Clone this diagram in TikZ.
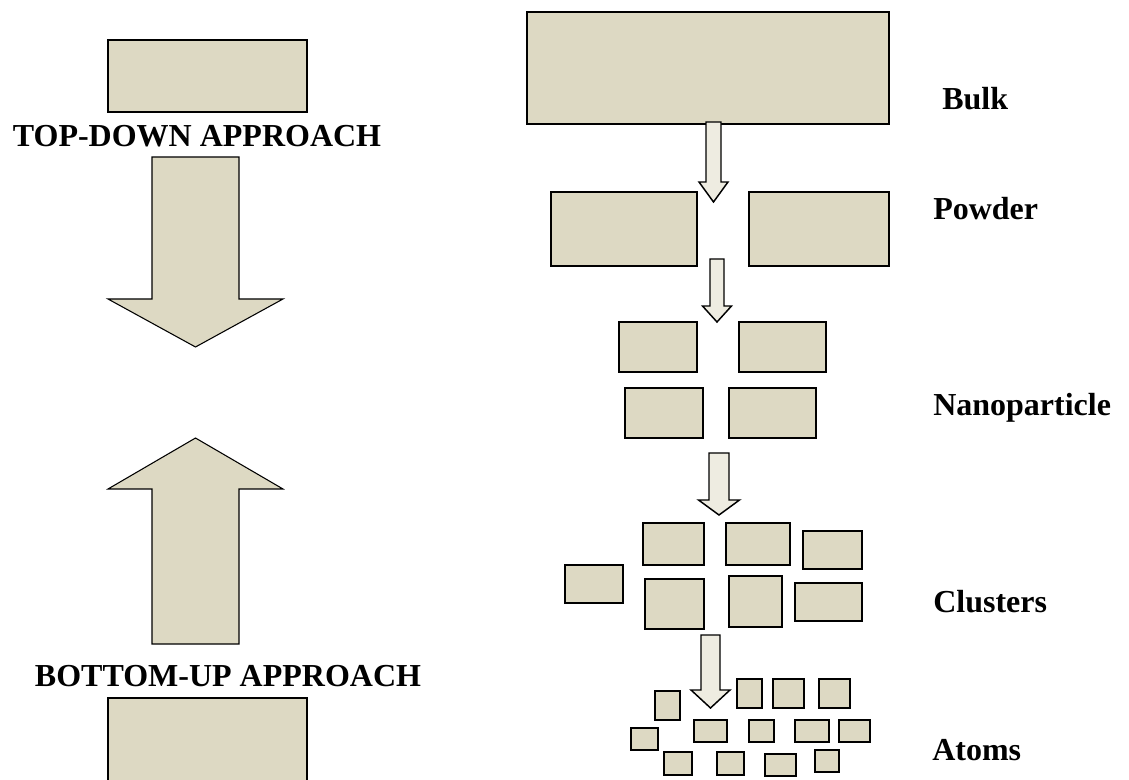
\documentclass[tikz,border=0pt]{standalone}
\usepackage{fontspec}
\setmainfont{Liberation Serif}
\usepackage{tikz}
\usetikzlibrary{fit}
\definecolor{grainfill}{HTML}{DDD9C3}
\definecolor{arrowfill}{HTML}{EEECE1}
\tikzstyle{grain} = [rectangle, inner sep=0pt, outer sep=0pt, draw=black, line width=1.1pt, fill=grainfill]
\tikzstyle{slab} = [grain, line width=0.8pt]
\tikzstyle{bigarrow} = [draw=black, line width=0.8pt, fill=grainfill, line join=miter]
\tikzstyle{smallarrow} = [draw=black, line width=1.1pt, fill=arrowfill, line join=miter]
\tikzstyle{approach} = [inner sep=0pt, anchor=base, font=\fontsize{24}{28}\selectfont\bfseries]
\tikzstyle{stagetext} = [inner sep=0pt, anchor=base west, font=\fontsize{24}{28}\selectfont\bfseries]
% block arrow: centre x, start y, neck y, tip y, half shaft, half head
\newcommand{\fatarrow}[7]{%
  \draw [#1] ({#2-#6},#3) -- ({#2+#6},#3) -- ({#2+#6},#4) -- ({#2+#7},#4)
    -- (#2,#5) -- ({#2-#7},#4) -- ({#2-#6},#4) -- cycle;}

\begin{document}
\begin{tikzpicture}[x=0.75pt, y=-0.75pt]
        \clip (0,0) rectangle (1129,780);
        % left column
        \node (topslab) [slab, fit={(108,40) (307,112)}] {};
        \node (topdown) [approach] at (197,147) {TOP-DOWN APPROACH};
        \fatarrow{bigarrow}{195.5}{157}{299}{347}{43.5}{87.5}
        \fatarrow{bigarrow}{195.5}{644}{489}{438}{43.5}{87.5}
        \node (bottomup) [approach] at (228,686) {BOTTOM-UP APPROACH};
        \node (bottomslab) [slab, fit={(108,698) (307,800)}] {};
        % bulk and powder
        \node (bulk) [slab, fit={(527,12) (889,124)}] {};
        \node (powderL) [grain, fit={(551,192) (697,266)}] {};
        \node (powderR) [grain, fit={(749,192) (889,266)}] {};
        % nanoparticles
        \node (nanoA) [grain, fit={(619,322) (697,372)}] {};
        \node (nanoB) [grain, fit={(739,322) (826,372)}] {};
        \node (nanoC) [grain, fit={(625,388) (703,438)}] {};
        \node (nanoD) [grain, fit={(729,388) (816,438)}] {};
        % clusters
        \node (clusA) [grain, fit={(643,523) (704,565)}] {};
        \node (clusB) [grain, fit={(726,523) (790,565)}] {};
        \node (clusC) [grain, fit={(803,531) (862,569)}] {};
        \node (clusD) [grain, fit={(565,565) (623,603)}] {};
        \node (clusE) [grain, fit={(645,579) (704,629)}] {};
        \node (clusF) [grain, fit={(729,576) (782,627)}] {};
        \node (clusG) [grain, fit={(795,583) (862,621)}] {};
        % atoms
        \node (atomA) [grain, fit={(737,679) (762,708)}] {};
        \node (atomB) [grain, fit={(773,679) (804,708)}] {};
        \node (atomC) [grain, fit={(819,679) (850,708)}] {};
        \node (atomD) [grain, fit={(655,691) (680,720)}] {};
        \node (atomE) [grain, fit={(631,728) (658,750)}] {};
        \node (atomF) [grain, fit={(694,720) (727,742)}] {};
        \node (atomG) [grain, fit={(749,720) (774,742)}] {};
        \node (atomH) [grain, fit={(795,720) (829,742)}] {};
        \node (atomI) [grain, fit={(839,720) (870,742)}] {};
        \node (atomJ) [grain, fit={(664,752) (692,775)}] {};
        \node (atomK) [grain, fit={(717,752) (744,775)}] {};
        \node (atomL) [grain, fit={(765,754) (796,776)}] {};
        \node (atomM) [grain, fit={(815,750) (839,772)}] {};
        % arrows between stages
        \fatarrow{smallarrow}{713.5}{122}{182}{202}{7.5}{14.5}
        \fatarrow{smallarrow}{717}{259}{306}{322}{7}{14.5}
        \fatarrow{smallarrow}{719}{453}{500}{515}{10}{20.5}
        \fatarrow{smallarrow}{710.5}{635}{690}{708}{9.5}{19.5}
        % stage names
        \node (bulklbl) [stagetext] at (942,110) {Bulk};
        \node (powderlbl) [stagetext] at (933,220) {Powder};
        \node (nanolbl) [stagetext] at (933,416) {Nanoparticle};
        \node (cluslbl) [stagetext] at (933,613) {Clusters};
        \node (atomlbl) [stagetext] at (932,760) {Atoms};
    \end{tikzpicture}
\end{document}
